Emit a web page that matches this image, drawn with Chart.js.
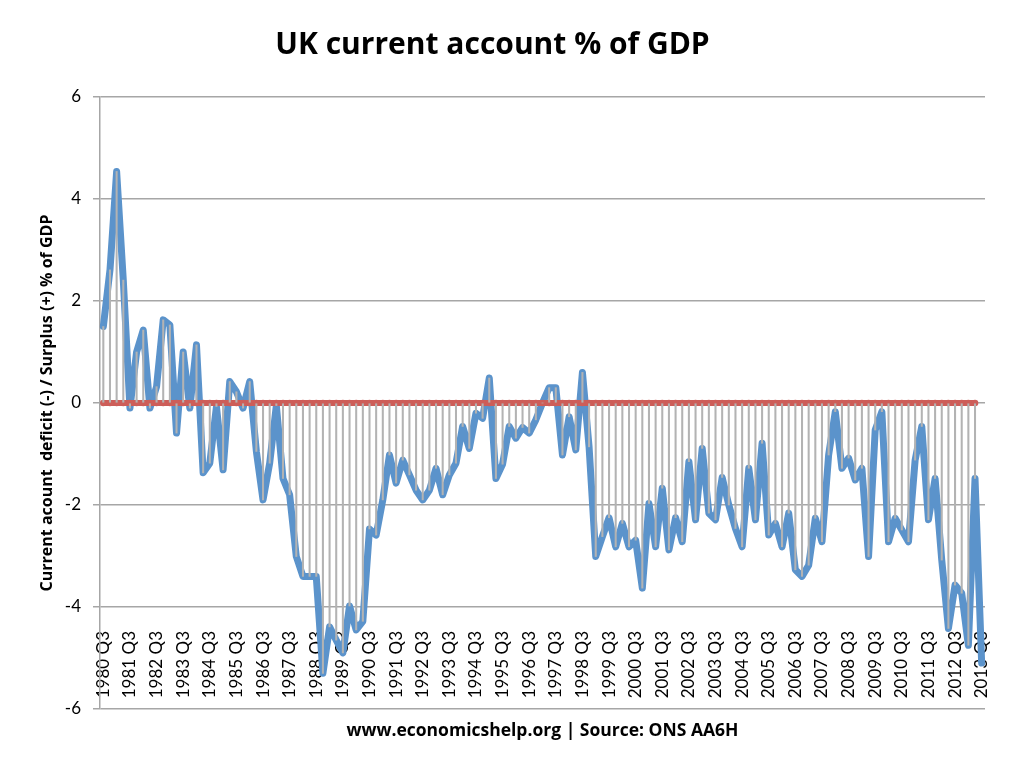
<!DOCTYPE html>
<html>
<head>
<meta charset="utf-8">
<title>UK current account % of GDP</title>
<script src="https://cdn.jsdelivr.net/npm/chart.js@4.4.1/dist/chart.umd.min.js"></script>
<style>
  html, body { margin: 0; padding: 0; background: #fff; }
</style>
</head>
<body>
<canvas id="chartCA" width="1011" height="769"></canvas>
<script>
// === DATA ===
// quarter labels, 1980 Q3 .. 2013 Q3
const quarters = [];
for (let y = 1980; y <= 2013; y++) {
  ["Q1", "Q2", "Q3", "Q4"].forEach(q => quarters.push(y + " " + q));
}
const categories = quarters.slice(2, quarters.length - 1);

// labels shown on the axis (every 4th quarter)
const tickLabels = [
  "1980 Q3", "1981 Q3", "1982 Q3", "1983 Q3", "1984 Q3", "1985 Q3", "1986 Q3",
  "1987 Q3", "1988 Q3", "1989 Q3", "1990 Q3", "1991 Q3", "1992 Q3", "1993 Q3",
  "1994 Q3", "1995 Q3", "1996 Q3", "1997 Q3", "1998 Q3", "1999 Q3", "2000 Q3",
  "2001 Q3", "2002 Q3", "2003 Q3", "2004 Q3", "2005 Q3", "2006 Q3", "2007 Q3",
  "2008 Q3", "2009 Q3", "2010 Q3", "2011 Q3", "2012 Q3", "2013 Q3"
];

// current account balance, % of GDP
const currentAccount = [
  1.50, 2.61, 4.54, 2.41, -0.10, 1.00, 1.43, -0.10, 0.32, 1.63, 1.53, -0.59,
  1.00, -0.10, 1.14, -1.37, -1.18, -0.07, -1.31, 0.42, 0.22, -0.10, 0.42, -0.95,
  -1.90, -1.18, -0.05, -1.48, -1.80, -3.01, -3.40, -3.40, -3.40, -5.30, -4.39, -4.65,
  -4.90, -3.98, -4.45, -4.28, -2.47, -2.59, -1.90, -1.02, -1.57, -1.12, -1.41, -1.71,
  -1.90, -1.71, -1.28, -1.80, -1.41, -1.18, -0.46, -0.89, -0.20, -0.30, 0.49, -1.48,
  -1.20, -0.46, -0.69, -0.48, -0.59, -0.33, 0.00, 0.30, 0.30, -1.02, -0.27, -0.92,
  0.60, -0.86, -3.01, -2.62, -2.25, -2.82, -2.36, -2.82, -2.69, -3.63, -1.97, -2.82,
  -1.67, -2.88, -2.25, -2.72, -1.15, -2.29, -0.89, -2.16, -2.29, -1.46, -2.00, -2.46,
  -2.82, -1.28, -2.29, -0.79, -2.59, -2.36, -2.82, -2.16, -3.27, -3.40, -3.18, -2.26,
  -2.72, -1.02, -0.17, -1.28, -1.08, -1.51, -1.28, -3.01, -0.53, -0.17, -2.72, -2.26,
  -2.49, -2.72, -1.12, -0.46, -2.29, -1.48, -3.08, -4.42, -3.57, -3.73, -4.75, -1.48,
  -5.10
];

// zero reference series (one quarter shorter than the balance)
const zeroLine = [
  0, 0, 0, 0, 0, 0, 0, 0, 0, 0, 0, 0, 0, 0, 0, 0, 0, 0, 0, 0, 0, 0,
  0, 0, 0, 0, 0, 0, 0, 0, 0, 0, 0, 0, 0, 0, 0, 0, 0, 0, 0, 0, 0, 0,
  0, 0, 0, 0, 0, 0, 0, 0, 0, 0, 0, 0, 0, 0, 0, 0, 0, 0, 0, 0, 0, 0,
  0, 0, 0, 0, 0, 0, 0, 0, 0, 0, 0, 0, 0, 0, 0, 0, 0, 0, 0, 0, 0, 0,
  0, 0, 0, 0, 0, 0, 0, 0, 0, 0, 0, 0, 0, 0, 0, 0, 0, 0, 0, 0, 0, 0,
  0, 0, 0, 0, 0, 0, 0, 0, 0, 0, 0, 0, 0, 0, 0, 0, 0, 0, 0, 0, 0, 0
];

const yTicks = [-6, -4, -2, 0, 2, 4, 6];

// high-low lines between the two series
const highLow = zeroLine.map((z, i) => [z, currentAccount[i]]);

// === CHART ===
Chart.defaults.font.family = "Lato, 'Open Sans', sans-serif";
Chart.defaults.color = "#000";

const boldFont = "'Open Sans', Lato, sans-serif";

const ctx = document.getElementById("chartCA").getContext("2d");
const chartCA = new Chart(ctx, {
  data: {
    labels: categories,
    datasets: [
      {
        type: "bar",
        label: "High-low",
        data: highLow,
        backgroundColor: "#b3b3b3",
        barThickness: 1.4,
        order: 0
      },
      {
        type: "line",
        label: "Zero",
        data: zeroLine,
        borderColor: "#cd5e59",
        borderWidth: 6,
        pointRadius: 3.3,
        pointBackgroundColor: "#cd5e59",
        pointBorderWidth: 0,
        order: 1
      },
      {
        type: "line",
        label: "Current account % of GDP",
        data: currentAccount,
        borderColor: "#5b93cb",
        borderWidth: 7,
        pointRadius: 0,
        borderJoinStyle: "round",
        borderCapStyle: "round",
        order: 2
      }
    ]
  },
  options: {
    responsive: false,
    animation: false,
    layout: { padding: { left: 0, right: 26, top: 0, bottom: 0 } },
    plugins: {
      legend: { display: false },
      tooltip: { enabled: false },
      title: {
        display: true,
        text: "UK current account % of GDP",
        font: { family: boldFont, size: 30, weight: "bold" },
        color: "#000",
        padding: { top: 27, bottom: 34 }
      },
      subtitle: {
        display: true,
        position: "bottom",
        fullSize: false,
        text: "www.economicshelp.org | Source: ONS AA6H",
        font: { family: boldFont, size: 17.5, weight: "bold" },
        color: "#000",
        padding: { top: 11.5, bottom: 27.5 }
      }
    },
    scales: {
      x: {
        position: { y: -6 },
        offset: true,
        grid: { display: false },
        border: { display: false },
        ticks: {
          autoSkip: false,
          minRotation: 90,
          maxRotation: 90,
          padding: -86,
          font: { size: 17 },
          callback: (val, idx) => (idx % 4 === 0 ? tickLabels[idx / 4] : "")
        },
        afterFit: s => { s.height = 0; }
      },
      y: {
        min: yTicks[0],
        max: yTicks[yTicks.length - 1],
        afterBuildTicks: s => { s.ticks = yTicks.map(v => ({ value: v })); },
        ticks: { padding: 12, font: { size: 17 } },
        grid: { color: "#a6a6a6", lineWidth: 1.5, tickLength: 7 },
        border: { color: "#a6a6a6", width: 1.5 },
        title: {
          display: true,
          text: "Current acount  deficit (-) / Surplus (+) % of GDP",
          font: { family: boldFont, size: 16, weight: "bold" },
          padding: { top: 38, bottom: 0 }
        },
        afterFit: s => { s.width = 100; }
      }
    }
  }
});
</script>
</body>
</html>
